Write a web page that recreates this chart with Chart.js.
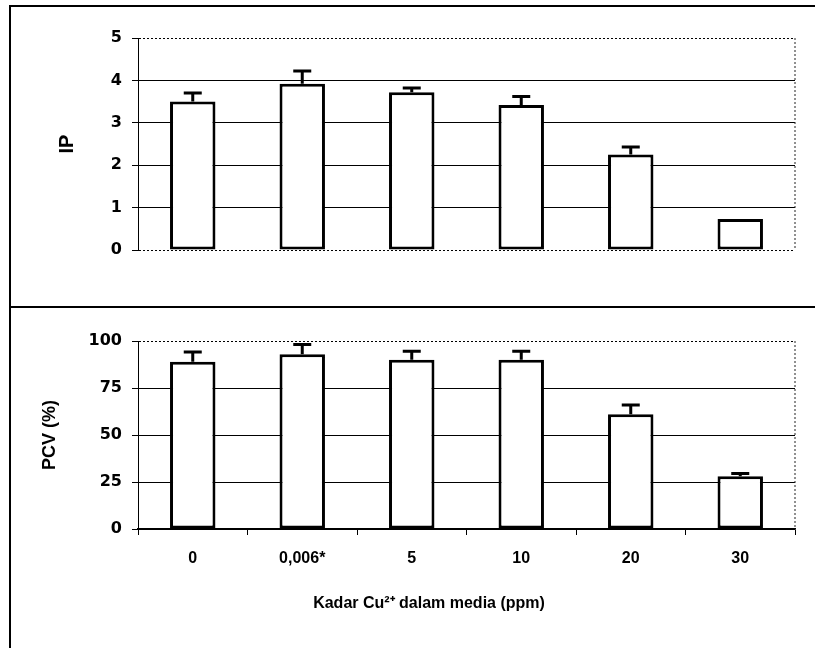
<!DOCTYPE html>
<html>
<head>
<meta charset="utf-8">
<script src="https://cdn.jsdelivr.net/npm/chart.js@4.4.1/dist/chart.umd.min.js"></script>
<style>
  html, body { margin: 0; padding: 0; background: #fff; }
  body { width: 815px; height: 648px; position: relative; overflow: hidden; }
  canvas { position: absolute; left: 0; }
  .ln { position: absolute; background: #000; }
</style>
</head>
<body>
<div class="ln" style="left:9px; top:5px; width:806px; height:1.5px;"></div>
<div class="ln" style="left:9px; top:5px; width:1.5px; height:643px;"></div>
<div class="ln" style="left:9px; top:306px; width:806px; height:1.5px;"></div>
<canvas id="top" width="815" height="300" style="top:0;"></canvas>
<canvas id="bot" width="815" height="341" style="top:307px;"></canvas>
<script>
const categories = ['0', '0,006*', '5', '10', '20', '30'];
const ipValues = [3.5, 3.92, 3.72, 3.42, 2.25, 0.73];
const ipErrors = [0.2, 0.3, 0.1, 0.2, 0.18, 0];
const pcvValues = [89, 93, 90, 90, 61, 28];
const pcvErrors = [5.2, 5.2, 4.5, 4.5, 5, 1.5];
const ipTicks = [0, 1, 2, 3, 4, 5];
const pcvTicks = [0, 25, 50, 75, 100];
const xTitle = 'Kadar Cu\u00B2\u207A dalam media (ppm)';

const tickFont = { family: "'DejaVu Sans', sans-serif", weight: 'bold', size: 16 };
const labelFont = { family: "'Liberation Sans', Arial, sans-serif", weight: 'bold', size: 16 };

const errorBars = {
  id: 'errorBars',
  afterDatasetsDraw(chart, args, opts) {
    const ctx = chart.ctx;
    const yScale = chart.scales.y;
    const ds = chart.data.datasets[0];
    const meta = chart.getDatasetMeta(0);
    ctx.save();
    ctx.strokeStyle = '#000';
    ctx.lineWidth = 3;
    meta.data.forEach((el, i) => {
      const err = opts.errors[i];
      if (!err) return;
      const x = el.x;
      const y0 = yScale.getPixelForValue(ds.data[i]);
      const y1 = yScale.getPixelForValue(ds.data[i] + err);
      ctx.beginPath();
      ctx.moveTo(x, y0);
      ctx.lineTo(x, y1);
      ctx.moveTo(x - 9, y1);
      ctx.lineTo(x + 9, y1);
      ctx.stroke();
    });
    ctx.restore();
  }
};

const frame = {
  id: 'frame',
  beforeDatasetsDraw(chart) {
    const { ctx, chartArea: a } = chart;
    ctx.save();
    ctx.strokeStyle = '#222';
    ctx.lineWidth = 1;
    ctx.setLineDash([2, 2]);
    ctx.beginPath();
    ctx.moveTo(a.right, a.top);
    ctx.lineTo(a.right, a.bottom);
    ctx.stroke();
    ctx.restore();
  }
};

const xTitlePlugin = {
  id: 'xTitlePlugin',
  afterDraw(chart, args, opts) {
    const ctx = chart.ctx;
    ctx.save();
    ctx.fillStyle = '#000';
    ctx.font = "bold 16px 'Liberation Sans', Arial, sans-serif";
    ctx.textAlign = 'center';
    ctx.textBaseline = 'middle';
    ctx.fillText(opts.text, opts.x, opts.y);
    ctx.restore();
  }
};

function dashFor(dotted) {
  return (c) => (c.tick && dotted.includes(c.tick.value)) ? [2, 2] : [];
}

function makeChart(id, values, errors, ticksArr, yTitle, cfg) {
  const max = ticksArr[ticksArr.length - 1];
  return new Chart(document.getElementById(id), {
    type: 'bar',
    data: {
      labels: categories,
      datasets: [{
        data: values,
        backgroundColor: '#fff',
        borderColor: '#000',
        borderWidth: 3,
        borderSkipped: false,
        barPercentage: 0.415,
        categoryPercentage: 1.0
      }]
    },
    options: {
      responsive: false,
      animation: false,
      events: [],
      layout: { padding: cfg.padding },
      plugins: {
        legend: { display: false },
        tooltip: { enabled: false },
        errorBars: { errors: errors },
        xTitlePlugin: cfg.xTitle || { text: '', x: 0, y: 0 }
      },
      scales: {
        x: cfg.x,
        y: {
          min: 0,
          max: max,
          afterBuildTicks: (s) => { s.ticks = ticksArr.map(v => ({ value: v })); },
          afterFit: (s) => { s.width = cfg.yWidth; },
          ticks: { color: '#000', font: tickFont, padding: 10 },
          grid: {
            color: '#000',
            lineWidth: 1,
            tickLength: 6,
            tickColor: '#000'
          },
          border: { display: true, color: '#000', width: 1, dash: dashFor(cfg.dotted) },
          title: {
            display: true,
            text: yTitle,
            color: '#000',
            font: { family: "'Liberation Sans', Arial, sans-serif", weight: 'bold', size: cfg.titleSize },
            padding: 0
          }
        }
      }
    },
    plugins: [frame, errorBars, xTitlePlugin]
  });
}

makeChart('top', ipValues, ipErrors, ipTicks, 'IP', {
  padding: { left: 55, right: 20, top: 38, bottom: 50 },
  yWidth: 83,
  titleSize: 20,
  dotted: [0, 5],
  x: { display: false }
});

makeChart('bot', pcvValues, pcvErrors, pcvTicks, 'PCV (%)', {
  padding: { left: 39, right: 20, top: 34, bottom: 59 },
  yWidth: 99,
  titleSize: 18,
  dotted: [100],
  xTitle: { text: xTitle, x: 429, y: 297 },
  x: {
    afterFit: (s) => { s.height = 60; },
    ticks: { color: '#000', font: labelFont, padding: 14 },
    grid: {
      display: true,
      drawOnChartArea: false,
      drawTicks: true,
      tickLength: 6,
      color: '#000',
      offset: true
    },
    border: { display: true, color: '#000', width: 1.5 }
  }
});
</script>
</body>
</html>
